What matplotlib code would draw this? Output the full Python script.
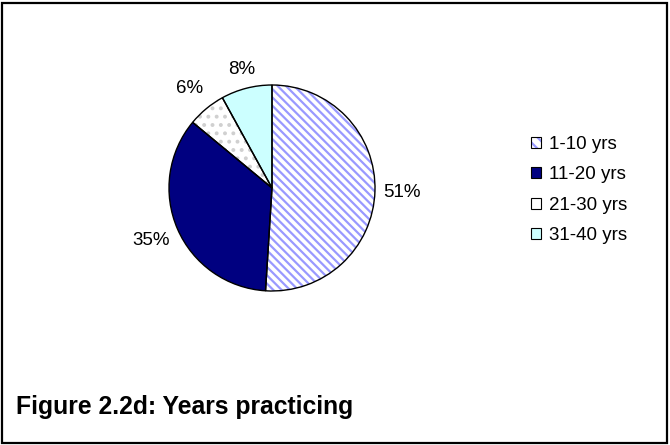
import numpy as np
import matplotlib
matplotlib.use("Agg")
import matplotlib.pyplot as plt
from matplotlib.patches import Rectangle, Patch
from matplotlib.legend_handler import HandlerTuple

plt.rcParams['font.family'] = ['Liberation Sans', 'DejaVu Sans']
plt.rcParams['hatch.linewidth'] = 1.6

categories = ['1-10 yrs', '11-20 yrs', '21-30 yrs', '31-40 yrs']
shares = [51, 35, 6, 8]
pct_labels = ['51%', '35%', '6%', '8%']

faces = ['white', '#000080', 'white', '#CCFFFF']
hatches = ['\\\\\\\\', None, '..', None]
hatch_cols = ['#9999FF', '#000080', '#D0D0D0', '#CCFFFF']
label_dist = [1.26, 1.28, 1.26, 1.19]

fig = plt.figure(figsize=(6.7, 4.45), dpi=100)
ax = fig.add_axes([169/670, 154/445, 206/670, 206/445])

# filled/hatched wedges, then a separate black outline on top
wedges, _ = ax.pie(shares, startangle=90, counterclock=False, radius=1,
                   colors=faces, wedgeprops=dict(linewidth=0))
for w, h, hc in zip(wedges, hatches, hatch_cols):
    if h:
        w.set_hatch(h)
        w.set_edgecolor(hc)
outline, _ = ax.pie(shares, startangle=90, counterclock=False, radius=1,
                    wedgeprops=dict(fill=False, edgecolor='black', linewidth=1.0))

for w, lab, d in zip(wedges, pct_labels, label_dist):
    ang = np.deg2rad((w.theta1 + w.theta2) / 2)
    ax.text(d * np.cos(ang), d * np.sin(ang), lab, ha='center', va='center',
            fontsize=13.5)

ax.set_xlim(-1, 1)
ax.set_ylim(-1, 1)
ax.set_aspect('equal')
ax.axis('off')

# legend keys: fill/hatch patch with a black frame laid over it
keys = []
for fc, h, hc in zip(faces, hatches, hatch_cols):
    striped = bool(h) and h.startswith('\\')
    body = Patch(facecolor=fc, hatch='\\\\\\' if striped else None,
                 edgecolor=hc if striped else fc, linewidth=0)
    frame = Patch(fill=False, edgecolor='black', linewidth=0.8)
    keys.append((body, frame))

fig.legend(keys, categories, loc='center left',
           bbox_to_anchor=(514/670, 1 - 190/445), frameon=False,
           fontsize=13.5, handlelength=0.52, handleheight=0.52,
           handletextpad=0.45, labelspacing=0.72,
           handler_map={tuple: HandlerTuple(ndivide=1)})

fig.text(16/670, 1 - 414/445, 'Figure 2.2d: Years practicing', fontsize=17.8,
         fontweight='bold', ha='left', va='baseline')

fig.patches.append(Rectangle((2/670, 2/445), 665/670, 440/445, fill=False,
                             edgecolor='black', linewidth=1.6,
                             transform=fig.transFigure, figure=fig))

fig.savefig('out.png', dpi=100)
